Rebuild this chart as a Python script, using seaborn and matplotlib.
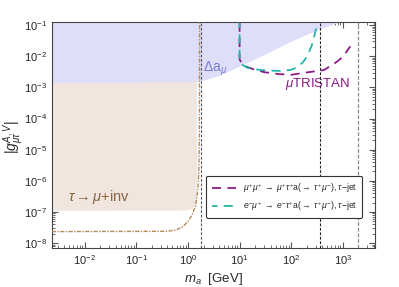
import matplotlib
matplotlib.use("Agg")
import matplotlib.pyplot as plt
import seaborn as sns

# Delta a_mu band (lower edge)
m_dam = [0.0023, 0.1, 1.0, 2.0, 4.2, 10, 31, 100, 300, 780, 4300]
g_dam = [1.45e-3, 1.47e-3, 1.55e-3, 1.7e-3, 2.5e-3, 4.9e-3, 1.17e-2, 3.1e-2, 6.8e-2, 0.12, 0.5]

# tau -> mu + inv excluded region (lower edge)
m_inv = [0.0023, 0.7, 1.0, 1.2, 1.33, 1.40, 1.44, 1.46]
g_inv = [1.13e-7, 1.14e-7, 1.2e-7, 1.35e-7, 1.7e-7, 2.5e-7, 5e-7, 2e-6]

# tau -> mu + inv projection (dash-dot)
m_dd = [0.0023, 0.4, 0.6, 0.8, 1.0, 1.2, 1.4, 1.55, 1.62, 1.66, 1.68]
g_dd = [2.35e-8, 2.4e-8, 2.7e-8, 3.4e-8, 5e-8, 8e-8, 1.6e-7, 5e-7, 2e-6, 2e-5, 0.2]

# muTRISTAN mu+mu+ reach
m_mumu = [10, 10, 11, 13, 18, 30, 57, 100, 190, 430, 730, 1000, 1400]
g_mumu = [0.12, 8e-3, 6e-3, 4.8e-3, 3.9e-3, 3.1e-3, 2.7e-3, 2.55e-3, 3.0e-3, 3.6e-3, 6.3e-3, 9.5e-3, 0.021]

# muTRISTAN e-mu+ reach
m_emu = [10, 10, 11, 14, 20, 35, 62, 100, 130, 170, 205, 250, 275, 300, 320]
g_emu = [0.12, 8e-3, 5.5e-3, 4.3e-3, 3.8e-3, 3.5e-3, 3.4e-3, 3.7e-3, 4.4e-3, 6.5e-3, 0.0103, 0.022, 0.04, 0.07, 0.12]

vlines = [1.777, 360, 2000]

sns.set_style("ticks")
plt.rcParams['font.family'] = ['Liberation Sans', 'DejaVu Sans']
plt.rcParams['mathtext.fontset'] = 'custom'
plt.rcParams['mathtext.rm'] = 'Liberation Sans'
plt.rcParams['mathtext.it'] = 'Liberation Sans:italic'
plt.rcParams['mathtext.bf'] = 'Liberation Sans:bold'

fig = plt.figure(figsize=(3.99, 2.87), dpi=100)
ax = fig.add_axes([0.130, 0.136, 0.811, 0.786])
ax.set_xscale("log")
ax.set_yscale("log")
ax.set_xlim(0.0023, 4300)
ax.set_ylim(7e-9, 0.123)

ax.fill_between(m_inv, g_inv, 1.0, color="#f0e6df", lw=0, zorder=1)
ax.fill_between(m_dam, g_dam, 1.0, color="#dedef8", lw=0, zorder=2)

sns.lineplot(x=m_dd, y=g_dd, sort=False, estimator=None, ax=ax, color="#b5895a",
             lw=1.0, linestyle=(0, (3, 1, 1, 1)), zorder=3)

ax.axvline(vlines[0], color="#555555", lw=0.8, linestyle=(0, (2.5, 1.5)), zorder=4)
ax.axvline(vlines[1], color="#222222", lw=0.8, linestyle=(0, (2.5, 1.5)), zorder=4)
ax.axvline(vlines[2], color="#888888", lw=0.9, linestyle=(0, (3, 1.5)), zorder=4)

sns.lineplot(x=m_mumu, y=g_mumu, sort=False, estimator=None, ax=ax, color="#8b1a89",
             lw=1.3, linestyle=(0, (5, 3.5)), zorder=5,
             label=r"$\mu^{+}\mu^{+}\;\to\;\mu^{+}\tau^{+}\mathrm{a}(\to\;\tau^{+}\mu^{-})$, $\tau$$-$jet")
sns.lineplot(x=m_emu, y=g_emu, sort=False, estimator=None, ax=ax, color="#22b5ad",
             lw=1.3, linestyle=(2, (5, 3.5)), zorder=6,
             label=r"$e^{-}\mu^{+}\;\to\;e^{-}\tau^{+}\mathrm{a}(\to\;\tau^{+}\mu^{-})$, $\tau$$-$jet")

ax.text(1.95, 4.0e-3, r"$\Delta\mathrm{a}_{\mu}$", color="#7a7ad8", fontsize=10, va="center", ha="left")
ax.text(0.0047, 3.0e-7, r"$\tau\to\mu$+inv", color="#8b6540", fontsize=10.5, va="center", ha="left")
ax.text(76, 1.28e-3, r"$\mu$TRISTAN", color="#8b1a89", fontsize=9.5, va="center", ha="left")

ax.set_xlabel(r"$m_a$  [GeV]", fontsize=9.5)
ax.xaxis.set_label_coords(0.5, -0.1)
ax.set_ylabel(r"$|g^{A,V}_{\mu\tau}|$", fontsize=10)
ax.yaxis.set_label_coords(-0.08, 0.49)

ax.tick_params(which="both", direction="in", top=True, right=True, labelsize=8, color="#555555")
ax.tick_params(which="major", length=4)
ax.tick_params(which="minor", length=2)
for s in ax.spines.values():
    s.set_color("#444444")
    s.set_linewidth(0.8)

leg = ax.legend(loc="lower right", bbox_to_anchor=(0.972, 0.115), fontsize=6.2, frameon=True,
                fancybox=True, handlelength=2.8, borderpad=0.6, labelspacing=0.5, handletextpad=0.8)
leg.get_frame().set_edgecolor("#333333")
leg.get_frame().set_linewidth(0.8)
leg.get_frame().set_alpha(1)

fig.savefig("out.png", dpi=100)
